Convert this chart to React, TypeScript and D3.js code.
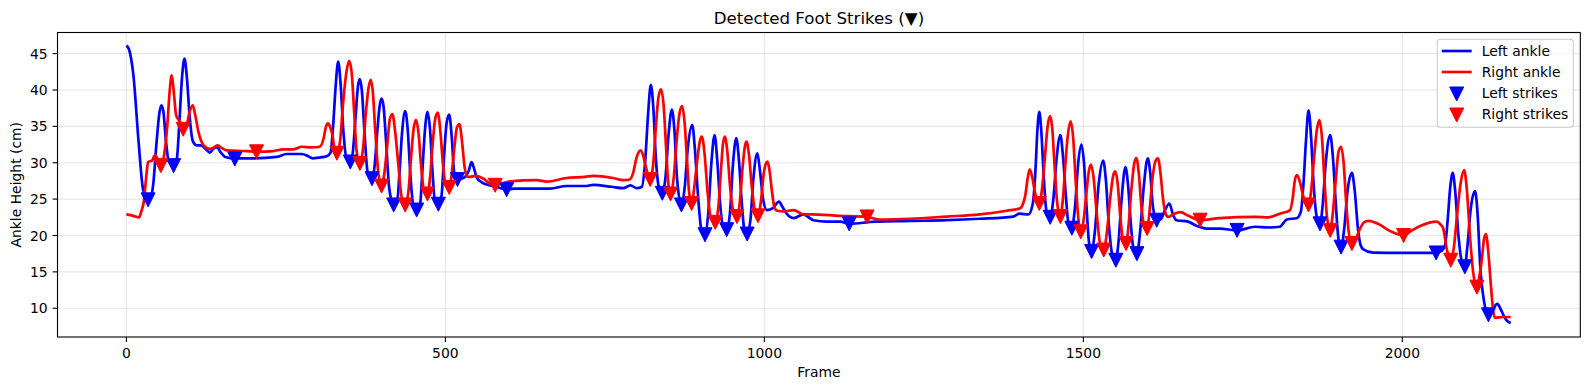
import React from "react";
import * as d3 from "d3";

// ankle height curves, [frame, cm]
const leftAnkle: [number, number][] = [
  [0, 46.1], [4, 45.6], [11, 42.0], [19, 33.0], [26, 26.4], [32, 25.1], [37, 25.0],
  [42, 27.0], [47, 32.5], [52, 37.0], [55, 37.9], [58, 37.0], [62, 33.0], [66, 30.3], [74, 29.6],
  [79, 30.5], [83, 35.5], [87, 41.5], [91, 44.3], [95, 41.5], [99, 36.5], [104, 33.0], [110, 32.4], [117, 32.4],
  [124, 31.9], [131, 31.4], [137, 32.0], [142, 32.1], [148, 31.4], [155, 30.8], [170, 30.6], [200, 30.6],
  [236, 30.8], [251, 31.2], [275, 31.2], [285, 30.9], [292, 30.6], [301, 30.7], [314, 30.9], [320, 31.4],
  [324, 35.0], [328, 40.5], [332, 43.9], [336, 40.5], [340, 34.5], [345, 30.6], [351, 30.1],
  [355, 31.5], [359, 36.0], [363, 40.5], [366, 41.5], [369, 40.0], [373, 34.5], [378, 28.8], [385, 27.8],
  [389, 29.5], [393, 34.0], [397, 37.8], [400, 38.8], [403, 37.8], [407, 33.0], [412, 26.5], [419, 24.2], [424, 24.4],
  [428, 28.5], [432, 34.0], [437, 37.1], [441, 34.5], [445, 28.5], [450, 24.0], [455, 23.5], [460, 24.0],
  [464, 29.0], [468, 34.5], [472, 37.0], [476, 34.5], [480, 28.5], [484, 24.5], [489, 24.3], [494, 25.5],
  [498, 31.0], [502, 35.5], [506, 36.6], [510, 33.5], [514, 28.5], [519, 27.7], [530, 28.0], [537, 29.0],
  [541, 30.1], [545, 29.2], [549, 28.0], [557, 27.3], [565, 27.0], [580, 26.7], [596, 26.3],
  [607, 26.45], [664, 26.45], [690, 26.8], [719, 26.8], [732, 26.95], [760, 26.7], [779, 26.5], [790, 26.9], [800, 26.5], [808, 26.7],
  [813, 30.0], [818, 37.0], [822, 40.7], [826, 37.5], [830, 30.5], [835, 26.5], [840, 25.8],
  [845, 28.0], [850, 34.0], [855, 37.3], [859, 34.5], [863, 28.0], [870, 24.2],
  [875, 26.5], [880, 32.0], [887, 35.2], [891, 32.0], [896, 25.5], [901, 21.0], [907, 20.1],
  [912, 23.0], [917, 30.0], [922, 33.8], [926, 30.5], [931, 24.0], [936, 21.0], [941, 20.8],
  [946, 23.0], [951, 30.0], [956, 33.4], [960, 30.5], [965, 24.0], [969, 20.6], [973, 20.2],
  [978, 22.0], [983, 28.0], [989, 31.3], [993, 29.0], [998, 25.0], [1004, 23.5], [1014, 23.8], [1019, 24.4],
  [1023, 24.65], [1028, 24.0], [1035, 23.0], [1046, 22.4], [1061, 22.9], [1077, 22.1], [1098, 21.9],
  [1119, 21.9], [1133, 21.6], [1173, 21.9], [1230, 22.0], [1286, 22.1], [1338, 22.3], [1390, 22.6],
  [1400, 23.0], [1414, 22.9], [1421, 24.5],
  [1425, 29.0], [1428, 34.5], [1431, 37.0], [1434, 34.5], [1438, 28.0], [1442, 23.5], [1448, 22.5],
  [1453, 25.0], [1458, 30.5], [1464, 33.8], [1468, 31.0], [1473, 25.0], [1477, 21.5], [1482, 21.0],
  [1487, 24.0], [1492, 30.0], [1497, 32.5], [1501, 30.0], [1505, 24.0], [1509, 19.0], [1513, 17.8],
  [1518, 20.5], [1524, 27.0], [1531, 30.3], [1535, 28.0], [1540, 21.5], [1545, 17.5], [1551, 16.6],
  [1555, 19.0], [1560, 25.0], [1566, 29.4], [1570, 27.0], [1575, 21.0], [1579, 18.0], [1584, 17.5],
  [1589, 20.5], [1595, 27.0], [1601, 30.6], [1605, 28.5], [1609, 24.0], [1615, 22.1], [1622, 22.3],
  [1628, 23.5], [1635, 24.4], [1640, 23.0], [1646, 22.1], [1664, 21.9], [1678, 21.3], [1693, 20.95],
  [1714, 20.95], [1741, 20.7], [1769, 21.2], [1790, 21.1], [1808, 21.2], [1819, 22.2], [1835, 22.4], [1841, 23.3],
  [1845, 27.0], [1849, 33.0], [1853, 37.2], [1857, 33.5], [1861, 27.0], [1866, 22.5], [1871, 21.6],
  [1875, 24.0], [1880, 30.0], [1887, 33.8], [1891, 31.0], [1896, 24.0], [1900, 19.5], [1904, 18.4],
  [1909, 21.0], [1914, 26.0], [1921, 28.6], [1925, 26.5], [1931, 20.5], [1935, 18.6], [1939, 18.1],
  [1954, 17.65], [2000, 17.6], [2053, 17.6], [2062, 17.9], [2067, 18.7],
  [2071, 22.0], [2075, 26.5], [2079, 28.6], [2083, 26.0], [2088, 20.0], [2093, 16.5], [2098, 15.7],
  [2102, 18.5], [2107, 23.5], [2114, 26.1], [2118, 23.0], [2122, 16.0], [2128, 11.0], [2135, 9.1],
  [2140, 9.6], [2145, 10.3], [2149, 10.6], [2154, 9.9], [2160, 8.8], [2165, 8.2], [2170, 8.0],
];

const rightAnkle: [number, number][] = [
  [0, 22.9], [11, 22.7], [20, 22.5], [24, 23.5], [27, 24.5], [31, 28.0], [34, 30.1], [40, 30.3],
  [45, 31.1], [49, 30.5], [54, 29.6],
  [59, 31.0], [64, 35.0], [68, 40.0], [71, 42.0], [74, 40.0], [78, 36.5], [84, 35.6], [89, 34.6],
  [94, 35.0], [99, 37.0], [104, 37.9], [108, 36.5], [113, 34.2], [121, 32.4], [131, 31.9], [137, 32.1],
  [143, 32.4], [150, 32.0], [157, 31.7], [189, 31.6], [204, 31.5], [230, 31.6], [246, 31.85], [262, 31.85],
  [275, 32.2], [290, 32.1], [303, 32.2], [309, 33.3], [313, 35.0], [316, 35.4], [319, 35.0], [323, 33.8],
  [326, 32.0], [330, 31.3],
  [335, 33.0], [339, 37.5], [345, 42.5], [349, 44.0], [353, 42.5], [357, 37.0], [361, 31.5], [366, 29.9],
  [371, 32.0], [375, 36.5], [380, 40.5], [383, 41.4], [386, 40.0], [390, 34.5], [395, 28.5], [400, 26.8],
  [405, 29.0], [409, 32.5], [413, 36.0], [417, 36.7], [421, 34.5], [426, 30.0], [431, 25.5], [437, 24.2],
  [442, 26.0], [446, 30.5], [450, 34.5], [454, 35.9], [458, 34.0], [462, 29.5], [467, 26.0], [472, 25.7],
  [476, 28.0], [480, 32.5], [484, 36.0], [488, 36.9], [492, 34.5], [496, 30.0], [501, 26.8], [506, 26.6],
  [510, 28.5], [514, 32.0], [518, 34.8], [522, 35.3], [526, 33.0], [530, 29.5], [534, 28.1], [539, 28.05],
  [546, 28.2], [560, 27.8], [570, 27.1], [578, 26.9], [590, 27.2], [601, 27.45], [643, 27.6], [659, 27.4],
  [690, 27.9], [719, 28.05], [732, 28.2], [763, 27.9], [779, 27.6], [789, 27.7],
  [794, 28.5], [800, 30.8], [806, 31.7], [810, 31.0], [814, 29.5], [821, 27.7],
  [826, 30.0], [830, 35.0], [834, 39.0], [838, 40.1], [842, 38.0], [846, 32.0], [849, 27.5], [853, 25.7],
  [858, 28.0], [862, 32.5], [867, 36.8], [871, 37.8], [875, 35.5], [879, 30.0], [882, 26.0], [886, 24.4],
  [890, 26.5], [895, 30.5], [899, 33.0], [902, 33.6], [906, 31.5], [911, 26.0], [916, 22.5], [923, 21.8],
  [928, 24.0], [932, 29.0], [935, 32.5], [938, 33.6], [942, 31.5], [946, 27.0], [951, 23.5], [957, 22.6],
  [962, 25.0], [966, 29.5], [970, 32.5], [972, 32.9], [976, 31.0], [980, 27.0], [985, 23.5], [990, 22.7],
  [995, 25.0], [999, 28.5], [1002, 29.8], [1005, 30.15], [1008, 29.0], [1012, 26.0], [1016, 23.8],
  [1020, 23.4], [1030, 23.3], [1046, 23.5], [1061, 22.9], [1074, 22.9], [1118, 22.7], [1161, 22.55],
  [1181, 22.2], [1230, 22.3], [1286, 22.6], [1338, 22.9], [1380, 23.4], [1401, 23.75], [1406, 24.5],
  [1409, 25.5], [1413, 28.0], [1416, 29.1], [1420, 28.0], [1424, 26.0], [1431, 24.4],
  [1436, 27.0], [1440, 31.0], [1444, 35.0], [1448, 36.4], [1451, 35.0], [1455, 29.5], [1459, 24.5], [1464, 22.6],
  [1468, 25.0], [1472, 30.0], [1476, 34.0], [1480, 35.7], [1484, 33.5], [1488, 27.5], [1492, 22.5], [1496, 20.5],
  [1501, 22.5], [1505, 26.0], [1509, 29.0], [1512, 29.75], [1516, 28.0], [1521, 23.0], [1526, 19.0], [1532, 18.0],
  [1537, 20.5], [1542, 25.0], [1547, 28.3], [1550, 28.8], [1554, 27.0], [1558, 22.5], [1562, 19.5], [1567, 18.9],
  [1571, 21.5], [1575, 26.0], [1580, 30.0], [1583, 30.65], [1587, 28.5], [1591, 24.0], [1595, 21.5], [1600, 20.95],
  [1604, 23.5], [1608, 27.5], [1613, 30.2], [1617, 30.6], [1621, 28.5], [1625, 25.0], [1629, 23.0],
  [1633, 22.55], [1643, 23.0], [1652, 23.2], [1665, 22.7], [1683, 22.1], [1714, 22.4], [1769, 22.55],
  [1790, 22.5], [1808, 23.0], [1824, 23.5], [1828, 25.0], [1832, 27.8], [1835, 28.3], [1839, 27.5],
  [1843, 26.0], [1848, 24.5], [1853, 24.2],
  [1857, 26.0], [1861, 30.0], [1866, 34.5], [1870, 35.85], [1874, 33.5], [1878, 27.5], [1882, 22.5], [1887, 20.7],
  [1891, 23.0], [1896, 28.0], [1900, 31.5], [1904, 32.2], [1908, 30.0], [1912, 24.5], [1916, 20.5], [1921, 18.9],
  [1927, 19.5], [1933, 20.8], [1940, 21.8], [1947, 22.0], [1962, 21.6], [1981, 20.6], [2002, 20.0],
  [2015, 20.7], [2028, 21.3], [2054, 21.9], [2060, 21.5], [2064, 21.0], [2070, 18.0], [2076, 16.6],
  [2081, 18.5], [2086, 23.0], [2092, 27.5], [2097, 29.0], [2101, 26.5], [2106, 20.0], [2111, 15.0], [2117, 12.9],
  [2121, 14.5], [2125, 17.0], [2128, 19.5], [2131, 20.2], [2135, 17.5], [2139, 13.0], [2142, 10.0],
  [2145, 8.7], [2158, 8.8], [2170, 8.8],
];

// detected strikes
const leftStrikes: [number, number][] = [
  [34, 24.9], [74, 29.6], [170, 30.5], [351, 30.1], [385, 27.8], [419, 24.2], [455, 23.5], [489, 24.3],
  [519, 27.7], [596, 26.3], [840, 25.8], [870, 24.2], [907, 20.1], [941, 20.8], [973, 20.2], [1133, 21.6],
  [1448, 22.5], [1482, 21.0], [1513, 17.8], [1551, 16.6], [1584, 17.5], [1615, 22.1], [1741, 20.7],
  [1871, 21.6], [1904, 18.4], [2053, 17.6], [2098, 15.7], [2135, 9.1],
];
const rightStrikes: [number, number][] = [
  [54, 29.6], [89, 34.6], [204, 31.5], [330, 31.3], [366, 29.9], [400, 26.8], [437, 24.2], [472, 25.7],
  [506, 26.6], [578, 26.9], [821, 27.7], [853, 25.7], [886, 24.4], [923, 21.8], [957, 22.6], [990, 22.7],
  [1161, 22.55], [1431, 24.4], [1464, 22.6], [1496, 20.5], [1532, 18.0], [1567, 18.9], [1600, 20.95],
  [1683, 22.1], [1853, 24.2], [1887, 20.7], [1921, 18.9], [2002, 20.0], [2076, 16.6], [2117, 12.9],
];

const xTicks = [0, 500, 1000, 1500, 2000];
const yTicks = [10, 15, 20, 25, 30, 35, 40, 45];

const legendItems = [
  { label: "Left ankle", color: "#0000ff", kind: "line" },
  { label: "Right ankle", color: "#ff0000", kind: "line" },
  { label: "Left strikes", color: "#0000ff", kind: "marker" },
  { label: "Right strikes", color: "#ff0000", kind: "marker" },
];

const W = 1589;
const H = 390;
const left = 57.5;
const right = 1580.3;
const top = 32.5;
const bottom = 337;
const font = "DejaVu Sans";

function tri(cx: number, cy: number, r: number) {
  return `M${cx - r},${cy - r}L${cx + r},${cy - r}L${cx},${cy + r}Z`;
}

export default function App() {
  const x = d3.scaleLinear().domain([-108, 2279]).range([left, right]);
  const y = d3.scaleLinear().domain([6.05, 47.9]).range([bottom, top]);
  const line = d3
    .line<[number, number]>()
    .x((d) => x(d[0]))
    .y((d) => y(d[1]))
    .curve(d3.curveMonotoneX);

  const r = 7;

  return (
    <svg
      width={W}
      height={H}
      style={{ position: "absolute", left: 0, top: 0, background: "#fff" }}
      fontFamily={font}
    >
      <rect x={0} y={0} width={W} height={H} fill="#fff" />
      {/* grid */}
      <g stroke="#b0b0b0" strokeOpacity={0.3} strokeWidth={1.1}>
        {xTicks.map((t) => (
          <line key={"gx" + t} x1={x(t)} x2={x(t)} y1={top} y2={bottom} />
        ))}
        {yTicks.map((t) => (
          <line key={"gy" + t} x1={left} x2={right} y1={y(t)} y2={y(t)} />
        ))}
      </g>

      <defs>
        <clipPath id="plotclip">
          <rect x={left} y={top} width={right - left} height={bottom - top} />
        </clipPath>
      </defs>

      <g clipPath="url(#plotclip)">
        <path d={line(leftAnkle) || ""} fill="none" stroke="#0000ff" strokeWidth={2.7} strokeLinejoin="round" />
        <path d={line(rightAnkle) || ""} fill="none" stroke="#ff0000" strokeWidth={2.7} strokeLinejoin="round" />
        {leftStrikes.map((d, i) => (
          <path key={"ls" + i} d={tri(x(d[0]), y(d[1]), r)} fill="#0000ff" stroke="#0000ff" strokeWidth={1} />
        ))}
        {rightStrikes.map((d, i) => (
          <path key={"rs" + i} d={tri(x(d[0]), y(d[1]), r)} fill="#ff0000" stroke="#ff0000" strokeWidth={1} />
        ))}
      </g>

      {/* spines */}
      <rect x={left} y={top} width={right - left} height={bottom - top} fill="none" stroke="#000" strokeWidth={1.1} />

      {/* x axis */}
      {xTicks.map((t) => (
        <g key={"xt" + t}>
          <line x1={x(t)} x2={x(t)} y1={bottom} y2={bottom + 4.9} stroke="#000" strokeWidth={1.1} />
          <text x={x(t)} y={357.5} fontSize={13.9} textAnchor="middle" fill="#000">
            {t}
          </text>
        </g>
      ))}
      {/* y axis */}
      {yTicks.map((t) => (
        <g key={"yt" + t}>
          <line x1={left - 4.9} x2={left} y1={y(t)} y2={y(t)} stroke="#000" strokeWidth={1.1} />
          <text x={left - 9.8} y={y(t)} dy="0.36em" fontSize={13.9} textAnchor="end" fill="#000">
            {t}
          </text>
        </g>
      ))}

      <text x={(left + right) / 2} y={377} fontSize={13.9} textAnchor="middle" fill="#000">
        Frame
      </text>
      <text
        transform={`translate(20.5, ${(top + bottom) / 2}) rotate(-90)`}
        fontSize={13.9}
        textAnchor="middle"
        fill="#000"
      >
        Ankle Height (cm)
      </text>
      <text x={(left + right) / 2} y={24} fontSize={16.67} textAnchor="middle" fill="#000">
        Detected Foot Strikes (▼)
      </text>

      {/* legend */}
      <g>
        <rect x={1437.3} y={39.3} width={136} height={88} rx={3} fill="#fff" fillOpacity={0.8} stroke="#cccccc" strokeWidth={1.1} />
        {legendItems.map((it, i) => {
          const cy = 51 + i * 21;
          return (
            <g key={it.label}>
              {it.kind === "line" ? (
                <line x1={1441.7} x2={1471.7} y1={cy} y2={cy} stroke={it.color} strokeWidth={2.7} />
              ) : (
                <path d={tri(1456.7, cy + 1, r)} fill={it.color} stroke={it.color} strokeWidth={1} />
              )}
              <text x={1481.7} y={cy} dy="0.36em" fontSize={13.9} fill="#000">
                {it.label}
              </text>
            </g>
          );
        })}
      </g>
    </svg>
  );
}
